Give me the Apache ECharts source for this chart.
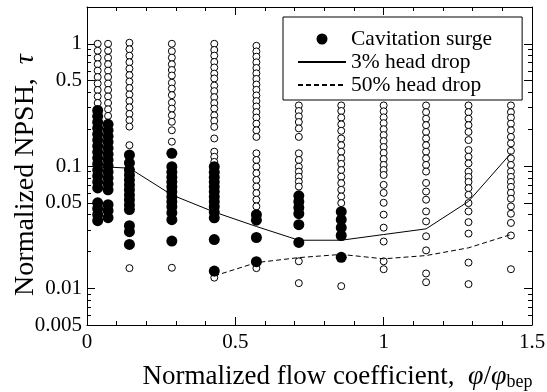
<!DOCTYPE html>
<html><head><meta charset="utf-8">
<script src="https://cdn.jsdelivr.net/npm/echarts@6/dist/echarts.min.js"></script>
<style>html,body{margin:0;padding:0;background:#fff}#c{width:547px;height:392px}</style>
</head><body><div id="c"></div>
<script>
// Normalized flow coefficient of each measured column
const phiCols = [0.036, 0.071, 0.143, 0.286, 0.429, 0.571, 0.714, 0.857, 1.0, 1.143, 1.286, 1.429];

// Open circles (no surge), per column
const open1 = [1.0, 0.877, 0.769, 0.681, 0.603, 0.534, 0.473, 0.419, 0.371, 0.328];
const open2 = [1.0, 0.877, 0.769, 0.681, 0.603, 0.534, 0.473, 0.419, 0.371, 0.328, 0.291, 0.257];
const open3 = [1.02, 0.902, 0.799, 0.707, 0.626, 0.554, 0.491, 0.435, 0.385, 0.341, 0.302, 0.267, 0.237, 0.21, 0.148, 0.0146];
const open4 = [1.0, 0.87, 0.77, 0.68, 0.61, 0.55, 0.48, 0.43, 0.38, 0.33, 0.295, 0.26, 0.23, 0.196, 0.158, 0.0147];
const open5 = [1.0, 0.89, 0.80, 0.71, 0.64, 0.57, 0.52, 0.455, 0.41, 0.366, 0.327, 0.295, 0.26, 0.234, 0.209, 0.168, 0.131, 0.119, 0.108, 0.0122];
const open6 = [0.963, 0.866, 0.784, 0.705, 0.634, 0.573, 0.516, 0.464, 0.42, 0.378, 0.34, 0.307, 0.276, 0.249, 0.222, 0.196, 0.173, 0.127, 0.112, 0.0987, 0.0873, 0.0769, 0.0679, 0.06, 0.053, 0.0467, 0.0146];
const open7 = [0.313, 0.282, 0.255, 0.229, 0.203, 0.173, 0.127, 0.112, 0.0987, 0.0899, 0.0818, 0.0745, 0.0679, 0.0166, 0.011];
const open8 = [0.313, 0.282, 0.249, 0.219, 0.194, 0.168, 0.148, 0.131, 0.1155, 0.104, 0.0927, 0.0818, 0.0723, 0.0638, 0.0563, 0.0497, 0.0104];
const open9 = [0.313, 0.280, 0.250, 0.224, 0.200, 0.179, 0.160, 0.143, 0.128, 0.114, 0.102, 0.0927, 0.0845, 0.0701, 0.0603, 0.050, 0.040, 0.0313, 0.0241, 0.0166, 0.0143];
const open10 = [0.313, 0.276, 0.244, 0.216, 0.190, 0.168, 0.148, 0.131, 0.1155, 0.102, 0.090, 0.0727, 0.0618, 0.053, 0.0425, 0.0352, 0.0266, 0.0204, 0.0132, 0.0112];
const open11 = [0.313, 0.276, 0.244, 0.216, 0.190, 0.163, 0.135, 0.119, 0.105, 0.090, 0.0814, 0.0741, 0.0659, 0.0581, 0.0497, 0.0425, 0.0347, 0.028, 0.0162, 0.0108];
const open12 = [0.313, 0.276, 0.249, 0.222, 0.196, 0.173, 0.153, 0.133, 0.1155, 0.102, 0.090, 0.0814, 0.0741, 0.0675, 0.0603, 0.054, 0.0467, 0.0407, 0.0342, 0.027, 0.0143];

// Filled circles (cavitation surge), per column
const surge1 = [0.285, 0.255, 0.228, 0.204, 0.182, 0.163, 0.1455, 0.130, 0.116, 0.104, 0.0927, 0.083, 0.0741, 0.0662, 0.050, 0.0447, 0.040, 0.0357];
const surge2 = [0.2195, 0.196, 0.175, 0.157, 0.140, 0.125, 0.112, 0.100, 0.0894, 0.0798, 0.0714, 0.0638, 0.0482, 0.0431, 0.0378];
const surge3 = [0.123, 0.106, 0.093, 0.0845, 0.077, 0.070, 0.064, 0.058, 0.053, 0.048, 0.044, 0.0325, 0.029, 0.0228];
const surge4 = [0.127, 0.0987, 0.089, 0.081, 0.074, 0.0675, 0.0616, 0.056, 0.051, 0.0465, 0.0415, 0.0364, 0.0243];
const surge5 = [0.0987, 0.089, 0.081, 0.074, 0.0675, 0.0616, 0.056, 0.051, 0.0465, 0.042, 0.0377, 0.025, 0.0138];
const surge6 = [0.040, 0.036, 0.026, 0.0165];
const surge7 = [0.057, 0.051, 0.0456, 0.0407, 0.0331, 0.0237];
const surge8 = [0.0423, 0.0364, 0.0313, 0.027, 0.0179];

// Head-drop curves
const drop3 = [0.097, 0.098, 0.096, 0.058, 0.042, 0.032, 0.0247, 0.0247, 0.0275, 0.0306, 0.0513, 0.127];
const drop50Phi = [0.429, 0.571, 0.714, 0.857, 1.0, 1.143, 1.286, 1.429];
const drop50 = [0.0126, 0.0162, 0.0178, 0.0189, 0.0174, 0.0185, 0.0214, 0.0275];

// Tick values
const yLabelTicks = [0.005, 0.01, 0.05, 0.1, 0.5, 1];
const yMinorTicks = [0.006, 0.007, 0.008, 0.009, 0.02, 0.03, 0.04, 0.06, 0.07, 0.08, 0.09,
                     0.2, 0.3, 0.4, 0.6, 0.7, 0.8, 0.9, 2];

const openCols = [open1, open2, open3, open4, open5, open6, open7, open8, open9, open10, open11, open12];
const surgeCols = [surge1, surge2, surge3, surge4, surge5, surge6, surge7, surge8];
const openPts = [], surgePts = [];
openCols.forEach((col, i) => col.forEach(t => openPts.push([phiCols[i], t])));
surgeCols.forEach((col, i) => col.forEach(t => surgePts.push([phiCols[i], t])));
const drop3Pts = drop3.map((t, i) => [phiCols[i], t]);
const drop50Pts = drop50.map((t, i) => [drop50Phi[i], t]);

const FF = 'Liberation Serif';
const black = '#000';

function xAx(pos, labels) {
  const a = {
    type: 'value', min: 0, max: 1.5, interval: 0.5, position: pos,
    axisLine: {show: true, lineStyle: {color: black, width: 1}},
    axisTick: {show: true, inside: true, length: 8, lineStyle: {color: black}},
    minorTick: {show: true, splitNumber: 5, length: 4, lineStyle: {color: black}},
    splitLine: {show: false}, minorSplitLine: {show: false},
    axisLabel: {show: labels, color: black, fontFamily: FF, fontSize: 21, margin: 7}
  };
  if (labels) {
    a.name = '{n|Normalized flow coefficient,  }{i|φ}{n|/}{i|φ}{s|bep}';
    a.nameLocation = 'middle';
    a.nameGap = 38;
    a.nameMoveOverlap = false;
    a.nameTextStyle = {
      color: black, fontFamily: FF, fontSize: 27, padding: [0, 0, 0, 56],
      rich: {
        n: {fontFamily: FF, fontSize: 27, color: black, lineHeight: 28},
        i: {fontFamily: FF, fontSize: 28, fontStyle: 'italic', color: black, lineHeight: 28},
        s: {fontFamily: FF, fontSize: 18, color: black, lineHeight: 10, verticalAlign: 'bottom'}
      }
    };
  }
  return a;
}
function yAx(pos, ticks, len, labels, line) {
  const a = {
    type: 'log', logBase: 10, min: 0.005, max: 2, position: pos,
    axisLine: {show: line, lineStyle: {color: black, width: 1}},
    axisTick: {show: true, inside: true, length: len, customValues: ticks, lineStyle: {color: black}},
    splitLine: {show: false}, minorTick: {show: false},
    axisLabel: {show: labels, customValues: ticks, color: black, fontFamily: FF, fontSize: 21, margin: 5,
                formatter: v => String(+(+v).toPrecision(3))}
  };
  if (labels) {
    a.name = '{n|Normalized NPSH,  }{i|τ}';
    a.nameLocation = 'middle';
    a.nameGap = 47;
    a.nameMoveOverlap = false;
    a.nameTextStyle = {
      color: black, fontFamily: FF, fontSize: 28, padding: [0, 18, 0, 0],
      rich: {
        n: {fontFamily: FF, fontSize: 28, color: black},
        i: {fontFamily: FF, fontSize: 28, fontStyle: 'italic', color: black}
      }
    };
  }
  return a;
}

const chart = echarts.init(document.getElementById('c'), null, {renderer: 'canvas'});
chart.setOption({
  animation: false,
  backgroundColor: '#fff',
  grid: {left: 87, right: 15, top: 7, bottom: 67, containLabel: false, outerBoundsMode: 'none'},
  xAxis: [xAx('bottom', true), xAx('top', false)],
  yAxis: [
    yAx('left', yLabelTicks, 8, true, true),
    yAx('left', yMinorTicks, 4, false, false),
    yAx('right', yLabelTicks, 8, false, true),
    yAx('right', yMinorTicks, 4, false, false)
  ],
  legend: {
    orient: 'vertical', left: 283, top: 17,
    padding: [11, 30, 4, 14], itemGap: 1, itemWidth: 48, itemHeight: 11,
    backgroundColor: '#fff', borderColor: black, borderWidth: 1,
    textStyle: {fontFamily: FF, fontSize: 21.5, color: black, lineHeight: 21},
    data: [
      {name: 'Cavitation surge', icon: 'circle'},
      {name: '3% head drop', itemStyle: {opacity: 0}},
      {name: '50% head drop', itemStyle: {opacity: 0}}
    ]
  },
  series: [
    {name: 'No surge', type: 'scatter', data: openPts, symbol: 'circle', symbolSize: 7,
     itemStyle: {color: '#fff', borderColor: black, borderWidth: 1, opacity: 1}, z: 2},
    {name: '3% head drop', type: 'line', data: drop3Pts, symbol: 'none',
     lineStyle: {color: black, width: 1}, itemStyle: {color: black}, z: 3},
    {name: '50% head drop', type: 'line', data: drop50Pts, symbol: 'none',
     lineStyle: {color: black, width: 1, type: [5, 3]}, itemStyle: {color: black}, z: 3},
    {name: 'Cavitation surge', type: 'scatter', data: surgePts, symbol: 'circle', symbolSize: 11,
     itemStyle: {color: black, opacity: 1}, z: 4}
  ]
});
</script></body></html>
